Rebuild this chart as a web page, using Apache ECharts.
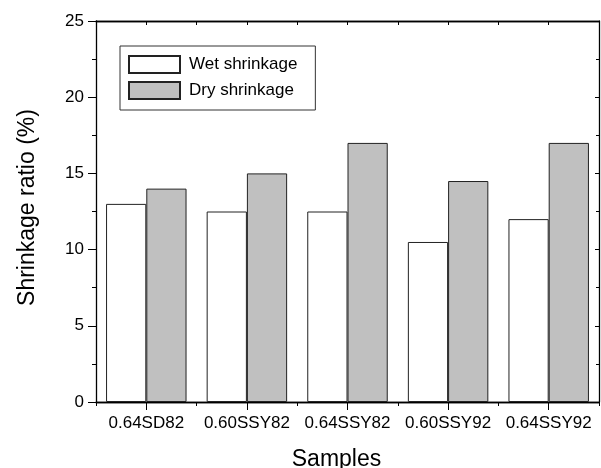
<!DOCTYPE html>
<html><head><meta charset="utf-8">
<script src="https://cdn.jsdelivr.net/npm/echarts@6/dist/echarts.min.js"></script>
<style>html,body{margin:0;padding:0;background:#fff}#c{width:601px;height:468px}</style>
</head><body><div id="c"></div>
<script>
const categories = ['0.64SD82','0.60SSY82','0.64SSY82','0.60SSY92','0.64SSY92'];
const wetShrinkage = [13, 12.5, 12.5, 10.5, 12];
const dryShrinkage = [14, 15, 17, 14.5, 17];
const yTicks = [0, 5, 10, 15, 20, 25];

const FONT = 'Liberation Sans, Arial, sans-serif';
const axisLine = {show: true, lineStyle: {color: '#000', width: 1.3}};
const chart = echarts.init(document.getElementById('c'));
const catAxis = (pos, tickLen, inside, align, showLabel) => ({
  type: 'category', data: categories, position: pos,
  axisLine: axisLine,
  axisTick: {show: true, length: tickLen, inside: inside, alignWithLabel: align, interval: 0, lineStyle: {color: '#000', width: 1}},
  axisLabel: {show: showLabel, interval: 0, color: '#000', fontFamily: FONT, fontSize: 17, margin: 13},
  splitLine: {show: false}
});
chart.setOption({
  animation: false,
  grid: {left: 96, right: 2, top: 21, bottom: 66, containLabel: false, outerBoundsMode: 'none'},
  legend: {
    orient: 'vertical', left: 120, top: 46,
    padding: [9, 18, 10, 8], itemGap: 7, itemWidth: 51, itemHeight: 17,
    borderColor: '#333', borderWidth: 1,
    icon: 'rect',
    textStyle: {fontFamily: FONT, fontSize: 17, color: '#000', padding: [0, 0, 0, 4]},
    data: ['Wet shrinkage', 'Dry shrinkage']
  },
  xAxis: [
    Object.assign(catAxis('bottom', 8, false, true, true), {
      name: 'Samples', nameLocation: 'middle', nameGap: 46,
      nameTextStyle: {fontFamily: FONT, fontSize: 23, color: '#000', padding: [0, 22, 0, 0]}
    }),
    catAxis('bottom', 4, false, false, false),
    catAxis('top', 4, true, true, false),
    catAxis('top', 4, true, false, false)
  ],
  yAxis: [
    {
      type: 'value', min: 0, max: 25, interval: 5, position: 'left',
      name: 'Shrinkage ratio (%)', nameLocation: 'middle', nameGap: 57, nameRotate: 90,
      nameTextStyle: {fontFamily: FONT, fontSize: 23, color: '#000', padding: [0, 0, 0, 8]},
      axisLine: axisLine,
      axisTick: {show: true, length: 8, lineStyle: {color: '#000'}},
      minorTick: {show: true, splitNumber: 2, length: 4, lineStyle: {color: '#000'}},
      axisLabel: {color: '#000', fontFamily: FONT, fontSize: 17, margin: 12,
        formatter: v => yTicks.includes(v) ? String(v) : ''},
      splitLine: {show: false}
    },
    {
      type: 'value', min: 0, max: 25, interval: 5, position: 'right',
      axisLine: axisLine,
      axisTick: {show: true, inside: true, length: 4, lineStyle: {color: '#000'}},
      minorTick: {show: true, splitNumber: 2, length: 3, lineStyle: {color: '#000'}},
      axisLabel: {show: false},
      splitLine: {show: false}
    }
  ],
  series: [
    {
      name: 'Wet shrinkage', type: 'bar', data: wetShrinkage,
      barGap: '0%', barCategoryGap: '20%',
      itemStyle: {color: '#ffffff', borderColor: '#222', borderWidth: 1}
    },
    {
      name: 'Dry shrinkage', type: 'bar', data: dryShrinkage,
      barGap: '0%', barCategoryGap: '20%',
      itemStyle: {color: '#c0c0c0', borderColor: '#222', borderWidth: 1}
    }
  ]
});
</script></body></html>
